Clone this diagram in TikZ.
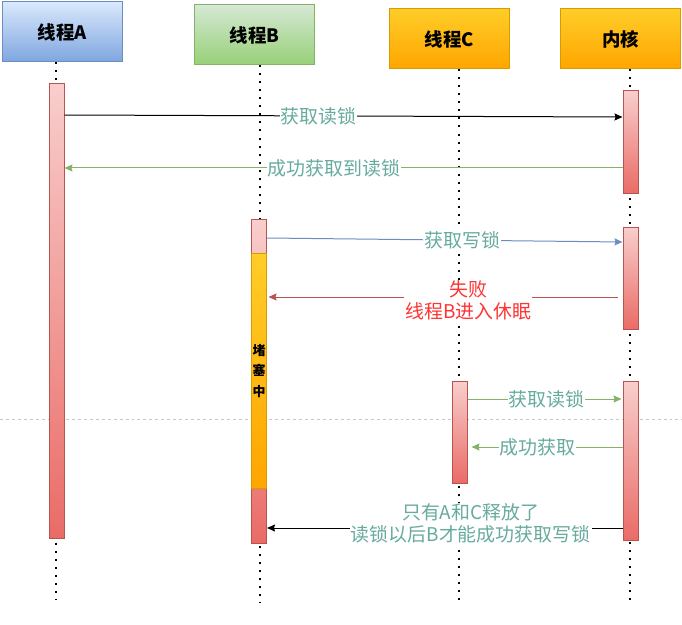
\documentclass[tikz,border=0pt]{standalone}
\usepackage{fontspec}
\setmainfont{Noto Sans CJK SC}
\usepackage{tikz}
\usetikzlibrary{
  arrows.meta,
  positioning,
  calc
}
\definecolor{BlueTop}{HTML}{DAE8FC}
\definecolor{BlueBot}{HTML}{7EA6E0}
\definecolor{BlueLine}{HTML}{6C8EBF}
\definecolor{GreenTop}{HTML}{D5E8D4}
\definecolor{GreenBot}{HTML}{97D077}
\definecolor{GreenLine}{HTML}{82B366}
\definecolor{AmberTop}{HTML}{FFCD28}
\definecolor{AmberBot}{HTML}{FFA500}
\definecolor{AmberLine}{HTML}{D79B00}
\definecolor{RoseTop}{HTML}{F8CECC}
\definecolor{RoseBot}{HTML}{EA6B66}
\definecolor{RoseLine}{HTML}{B85450}
\definecolor{LabelTeal}{HTML}{67AB9F}
\definecolor{FailRed}{HTML}{FF3333}
\definecolor{GridGray}{HTML}{C8C8C8}
\tikzset{
  % Lifeline head: gradient box
  hdr/.style={
    rectangle, line width=1bp,
    draw=#1Line, top color=#1Top, bottom color=#1Bot,
    minimum width=120bp, minimum height=60bp,
    font=\fontsize{18.5}{20}\selectfont\bfseries
  },
  % Activation bar
  act/.style={
    rectangle, line width=1bp, inner sep=0pt,
    draw=RoseLine, top color=RoseTop, bottom color=RoseBot,
    minimum width=15bp
  },
  % Blocked part of a bar
  blk/.style={
    rectangle, line width=1bp, inner sep=0pt,
    draw=AmberLine, top color=AmberTop, bottom color=AmberBot,
    minimum width=15bp, align=center,
    font=\fontsize{13}{21}\selectfont\bfseries
  },
  % Dotted lifeline
  life/.style={line width=2bp, dash pattern=on 2bp off 6bp},
  % Message arrow
  arr/.style={
    -{Stealth[length=8bp,width=7bp,inset=1bp]},
    line width=1bp, color=#1
  },
  % Message label
  lbl/.style={
    fill=white, inner sep=1bp, text=LabelTeal, align=center,
    font=\fontsize{19}{22}\selectfont
  },
  % Dashed separator
  divider/.style={draw=GridGray, dashed, line width=1bp}
}

\begin{document}
\begin{tikzpicture}[x=1bp, y=-1bp]
  \useasboundingbox (0,0) rectangle (682,625);

  % Separator behind everything
  \coordinate (sepL) at (0,419);
  \coordinate (sepR) at (682,419);
  \draw[divider] (sepL) -- (sepR);

  % Heads
  \node[hdr=Blue]  (hA) at (62.5,32)  {线程A};
  \node[hdr=Green] (hB) at (254.5,35) {线程B};
  \node[hdr=Amber] (hC) at (449.5,39) {线程C};
  \node[hdr=Amber] (hK) at (620.5,39) {内核};

  % Lifelines
  \coordinate (endA) at (56,600);
  \coordinate (endB) at (260,603);
  \coordinate (endC) at (459,605);
  \coordinate (endK) at (630,605);
  \draw[life] (hA.south -| endA) -- (endA);
  \draw[life] (hB.south -| endB) -- (endB);
  \draw[life] (hC.south -| endC) -- (endC);
  \draw[life] (hK.south -| endK) -- (endK);

  % Activation bars
  \node[act, minimum height=454bp] (barA)  at (56.5,311)  {};
  \node[act, minimum height=323bp] (barB)  at (259,381.5) {};
  \node[blk, minimum height=234bp] (wait)  at (259,371)   {堵\\塞\\中};
  \node[act, minimum height=102bp] (barC)  at (459.5,432) {};
  \node[act, minimum height=102bp] (barK1) at (630.5,142) {};
  \node[act, minimum height=102bp] (barK2) at (630.5,278) {};
  \node[act, minimum height=159bp] (barK3) at (630.5,460.5) {};

  % Messages
  \draw[arr=black] (barA.east |- 0,115) --
    node[lbl, pos=0.455]{获取读锁} (barK1.west |- 0,117);
  \draw[arr=GreenLine] (barK1.west |- 0,168) --
    node[lbl, pos=0.517]{成功获取到读锁} (barA.east |- 0,168);
  \draw[arr=BlueLine] (barB.east |- 0,238) --
    node[lbl, pos=0.549]{获取写锁} (barK2.west |- 0,242);
  \draw[arr=RoseLine, shorten <=5bp, shorten >=1.5bp] (barK2.west |- 0,297) --
    node[lbl, text=FailRed, pos=0.434, yshift=-3.5bp]{失败\\线程B进入休眠} (barB.east |- 0,297);
  \draw[arr=GreenLine, shorten >=1bp] (barC.east |- 0,399) --
    node[lbl, pos=0.51]{获取读锁} (barK3.west |- 0,399);
  \draw[arr=GreenLine, shorten >=4bp] (barK3.west |- 0,447) --
    node[lbl, pos=0.548]{成功获取} (barC.east |- 0,447);
  \draw[arr=black] (barK3.west |- 0,528) --
    node[lbl, pos=0.427, yshift=4.5bp]{只有A和C释放了\\读锁以后B才能成功获取写锁} (barB.east |- 0,528);

\end{tikzpicture}
\end{document}
